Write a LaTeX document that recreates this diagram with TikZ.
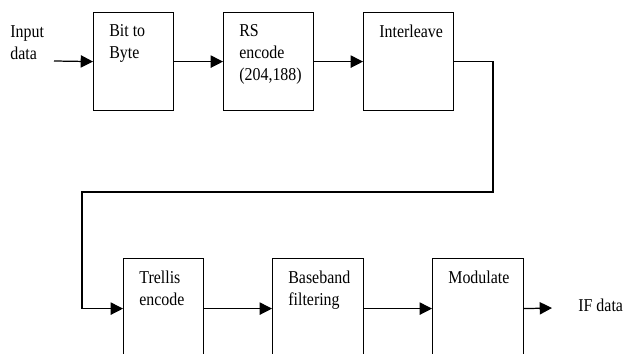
\documentclass[tikz,border=0pt]{standalone}
\usepackage{fontspec}
\setmainfont{Liberation Serif}[FakeStretch=0.88]
\usetikzlibrary{arrows.meta, positioning}

\begin{document}
\begin{tikzpicture}[
      x=0.02cm, y=-0.02cm,
      font=\fontsize{10.3}{12.5}\selectfont,
      blk/.style={draw, line width=0.7pt, anchor=north west, inner sep=0pt,
                  minimum height=1.96cm},
      blklow/.style={blk, minimum height=2cm},
      txt/.style={anchor=north west, inner sep=0pt, align=left,
                  xshift=0.32cm, yshift=-0.25cm},
      arr/.style={-{Triangle[length=7pt, width=7pt]}, line width=0.7pt}
    ]

    \useasboundingbox[fill=white] (0,0) rectangle (624,354);
    \clip (0,0) rectangle (624,354);

    % top row
    \node[blk, minimum width=1.6cm] (bit) at (93,12)
      [label={[txt]north west:Bit to\\Byte}] {};
    \node[blk, minimum width=1.8cm] (rs) at (223,12)
      [label={[txt]north west:RS\\encode\\(204,188)}] {};
    \node[blk, minimum width=1.8cm] (inter) at (363,12)
      [label={[txt]north west:Interleave}] {};

    % bottom row
    \node[blklow, minimum width=1.6cm] (trel) at (123,258)
      [label={[txt]north west:Trellis\\encode}] {};
    \node[blklow, minimum width=1.82cm] (base) at (272,258)
      [label={[txt]north west:Baseband\\filtering}] {};
    \node[blklow, minimum width=1.82cm] (mod) at (432,258)
      [label={[txt]north west:Modulate}] {};

    \node[anchor=north west, inner sep=0pt, align=left] (in) at (10,25) {Input\\data};
    \node[anchor=base west, inner sep=0pt] (out) at (578,311) {IF data};

    \coordinate (inpt)  at (54,61);
    \coordinate (outpt) at (552,308);
    \coordinate (fbR)   at (493,192);
    \coordinate (fbL)   at (82,192);

    \draw[arr] (inpt) -- (bit.west);
    \draw[arr] (bit.east) -- (rs.west);
    \draw[arr] (rs.east) -- (inter.west);
    \draw[arr] (inter.east) -| (fbR) -- (fbL) |- (trel.west);
    \draw[arr] (trel.east) -- (base.west);
    \draw[arr] (base.east) -- (mod.west);
    \draw[arr] (mod.east) -- (outpt);

  \end{tikzpicture}
\end{document}
